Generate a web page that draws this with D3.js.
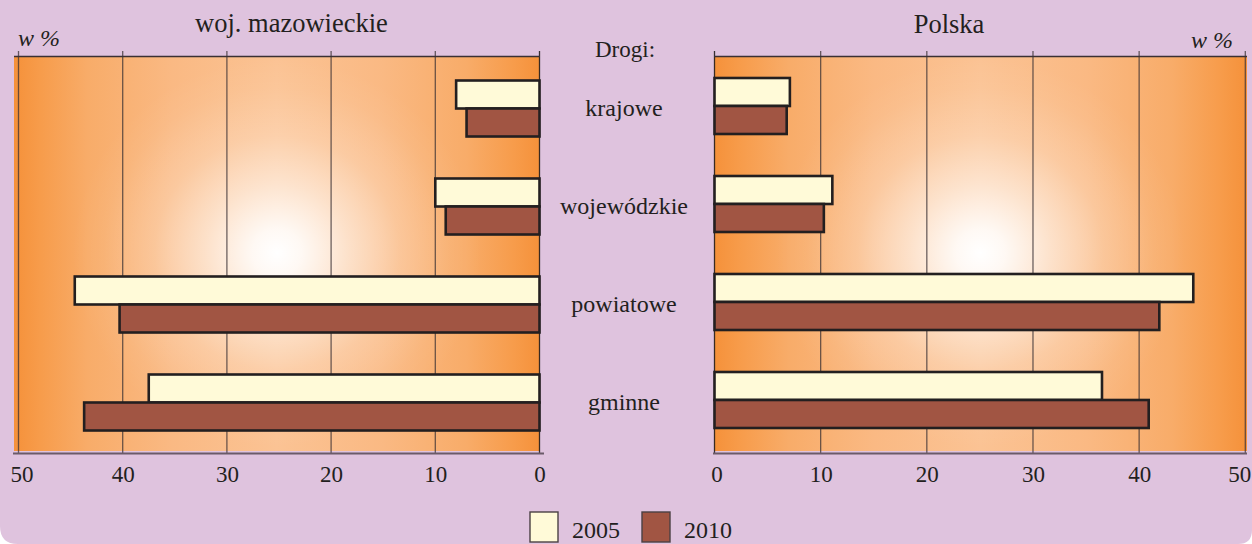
<!DOCTYPE html>
<html>
<head>
<meta charset="utf-8">
<script src="https://cdn.jsdelivr.net/npm/d3@7"></script>
<style>
  html, body { margin: 0; padding: 0; background: #ffffff; }
  svg { display: block; font-family: "Liberation Serif", "DejaVu Serif", serif; }
</style>
</head>
<body>
<svg id="chart" width="1252" height="544"></svg>
<script>
// Road length structure by road category, share in %
const categories = ["krajowe", "wojewódzkie", "powiatowe", "gminne"];
const years = ["2005", "2010"];
const mazowieckie2005 = [8.0, 10.0, 44.6, 37.5];
const mazowieckie2010 = [7.0, 9.0, 40.3, 43.7];
const polska2005 = [7.1, 11.1, 45.1, 36.5];
const polska2010 = [6.8, 10.3, 41.9, 40.9];
const axisTicks = [0, 10, 20, 30, 40, 50];
const panelTitles = ["woj. mazowieckie", "Polska"];
const unitLabel = "w %";
const rowHeader = "Drogi:";

const W = 1252, H = 544;
const INK = "#231f20";
const LILAC = "#dfc3de";
const SERIF = "'Liberation Serif', 'DejaVu Serif', serif";
const yearColors = { "2005": "#fffad8", "2010": "#a15543" };

const svg = d3.select("#chart");
const defs = svg.append("defs");

// page background with rounded lower corners
const bgPath = d3.path();
bgPath.moveTo(0, 0);
bgPath.lineTo(W, 0);
bgPath.lineTo(W, H - 14);
bgPath.quadraticCurveTo(W, H, W - 14, H);
bgPath.lineTo(18, H);
bgPath.quadraticCurveTo(0, H, 0, H - 18);
bgPath.closePath();
svg.append("path").attr("d", bgPath.toString()).attr("fill", LILAC);

// panel layout
const panels = [
  {
    key: "maz",
    title: panelTitles[0],
    s2005: mazowieckie2005,
    s2010: mazowieckie2010,
    x: d3.scaleLinear().domain([0, 50]).range([539.5, 18.5]),
    y: d3.scaleBand().domain(categories).range([59.5, 451.5]),
    box: { x0: 14, x1: 540, y0: 56.5, y1: 451 },
    labelShift: { 50: 3 },
    titleX: 291.5,
    titleY: 32
  },
  {
    key: "pl",
    title: panelTitles[1],
    s2005: polska2005,
    s2010: polska2010,
    x: d3.scaleLinear().domain([0, 50]).range([714.5, 1245.3]),
    y: d3.scaleBand().domain(categories).range([57, 449]),
    box: { x0: 714, x1: 1247, y0: 56.5, y1: 451 },
    labelShift: { 0: 2, 50: -6 },
    titleX: 949,
    titleY: 32.5
  }
];

const BAR_H = 28;
const AXIS_Y = 453.5;

panels.forEach(p => {
  const b = p.box;
  const cx = (b.x0 + b.x1) / 2, cy = (b.y0 + b.y1) / 2 - 1;

  // orange side gradient
  const lin = defs.append("linearGradient")
    .attr("id", "side-" + p.key)
    .attr("gradientUnits", "userSpaceOnUse")
    .attr("x1", b.x0).attr("x2", b.x1).attr("y1", 0).attr("y2", 0);
  [[0, "#f5913a"], [0.05, "#f79c4b"], [0.14, "#f8ac69"], [0.3, "#fab983"],
   [0.5, "#fbc394"], [0.7, "#fab983"], [0.86, "#f8ac69"], [0.95, "#f79c4b"], [1, "#f5913a"]]
    .forEach(([o, c]) => lin.append("stop").attr("offset", o).attr("stop-color", c));

  // white glow at the panel centre
  const rad = defs.append("radialGradient")
    .attr("id", "glow-" + p.key)
    .attr("gradientUnits", "userSpaceOnUse")
    .attr("cx", cx).attr("cy", cy).attr("r", 195)
    .attr("gradientTransform", `translate(${cx},${cy}) scale(1.05,1) translate(${-cx},${-cy})`);
  [[0, 1], [0.12, 0.9], [0.35, 0.55], [0.6, 0.22], [0.85, 0.05], [1, 0]]
    .forEach(([o, a]) => rad.append("stop").attr("offset", o)
      .attr("stop-color", "#ffffff").attr("stop-opacity", a));

  svg.append("rect")
    .attr("x", b.x0).attr("y", b.y0).attr("width", b.x1 - b.x0).attr("height", b.y1 - b.y0)
    .attr("fill", `url(#side-${p.key})`);
  svg.append("rect")
    .attr("x", b.x0).attr("y", b.y0).attr("width", b.x1 - b.x0).attr("height", b.y1 - b.y0)
    .attr("fill", `url(#glow-${p.key})`);

  // vertical gridlines with small ticks above the frame
  svg.append("g").selectAll("line")
    .data(axisTicks)
    .join("line")
    .attr("x1", d => p.x(d)).attr("x2", d => p.x(d))
    .attr("y1", 51).attr("y2", AXIS_Y)
    .attr("stroke", d => d === 0 ? INK : "#3b3134")
    .attr("stroke-opacity", d => d === 0 ? 0.9 : 0.75)
    .attr("stroke-width", 1.3);

  // top frame line
  svg.append("line")
    .attr("x1", b.x0).attr("x2", b.x1).attr("y1", b.y0).attr("y2", b.y0)
    .attr("stroke", "#3a3034").attr("stroke-width", 1.6);

  // bottom axis
  const gAxis = svg.append("g")
    .attr("transform", `translate(0,${AXIS_Y})`)
    .call(d3.axisBottom(p.x).tickValues(axisTicks).tickSize(0).tickPadding(12).tickFormat(d3.format("d")));
  gAxis.select(".domain").remove();
  gAxis.attr("font-family", SERIF);
  gAxis.selectAll("text")
    .attr("font-family", SERIF)
    .attr("font-size", 23)
    .attr("fill", INK)
    .attr("dx", d => p.labelShift[d] || 0);
  svg.append("line")
    .attr("x1", b.x0 - 1).attr("x2", p.key === "maz" ? b.x1 + 4 : b.x1)
    .attr("y1", AXIS_Y).attr("y2", AXIS_Y)
    .attr("stroke", "#6b5a69").attr("stroke-width", 2);

  // bars
  const rows = categories.map((c, i) => ({ c, v2005: p.s2005[i], v2010: p.s2010[i] }));
  const gBars = svg.append("g");
  years.forEach((yr, k) => {
    gBars.selectAll(null)
      .data(rows)
      .join("rect")
      .attr("x", d => Math.min(p.x(0), p.x(d["v" + yr])))
      .attr("width", d => Math.abs(p.x(d["v" + yr]) - p.x(0)))
      .attr("y", d => p.y(d.c) + p.y.bandwidth() / 2 - BAR_H + k * BAR_H)
      .attr("height", BAR_H)
      .attr("fill", yearColors[yr])
      .attr("stroke", INK)
      .attr("stroke-width", 2.6);
  });

  // panel title
  svg.append("text")
    .attr("x", p.titleX).attr("y", p.titleY)
    .attr("text-anchor", "middle")
    .attr("font-size", 26.5)
    .attr("fill", INK)
    .text(p.title);
});

// unit labels
svg.append("text")
  .attr("x", 18).attr("y", 46)
  .attr("font-size", 24).attr("font-style", "italic").attr("fill", INK)
  .text(unitLabel);
svg.append("text")
  .attr("x", 1233).attr("y", 48)
  .attr("text-anchor", "end")
  .attr("font-size", 24).attr("font-style", "italic").attr("fill", INK)
  .text(unitLabel);

// row header and category labels in the middle column
svg.append("text")
  .attr("x", 625).attr("y", 57)
  .attr("text-anchor", "middle")
  .attr("font-size", 23).attr("fill", INK)
  .text(rowHeader);

const yMid = panels[0].y;
svg.append("g").selectAll("text")
  .data(categories)
  .join("text")
  .attr("x", 624)
  .attr("y", d => yMid(d) + yMid.bandwidth() / 2 + 7)
  .attr("text-anchor", "middle")
  .attr("font-size", 24)
  .attr("fill", INK)
  .text(d => d);

// legend
const legend = svg.append("g");
const legendX = d3.scaleOrdinal().domain(years).range([530, 642]);
legend.selectAll("rect")
  .data(years)
  .join("rect")
  .attr("x", d => legendX(d)).attr("y", 512)
  .attr("width", 28).attr("height", 30)
  .attr("fill", d => yearColors[d])
  .attr("stroke", "#4a4044").attr("stroke-width", 1.4);
legend.selectAll("text")
  .data(years)
  .join("text")
  .attr("x", d => legendX(d) + 42).attr("y", 538)
  .attr("font-size", 24).attr("fill", INK)
  .text(d => d);
</script>
</body>
</html>
